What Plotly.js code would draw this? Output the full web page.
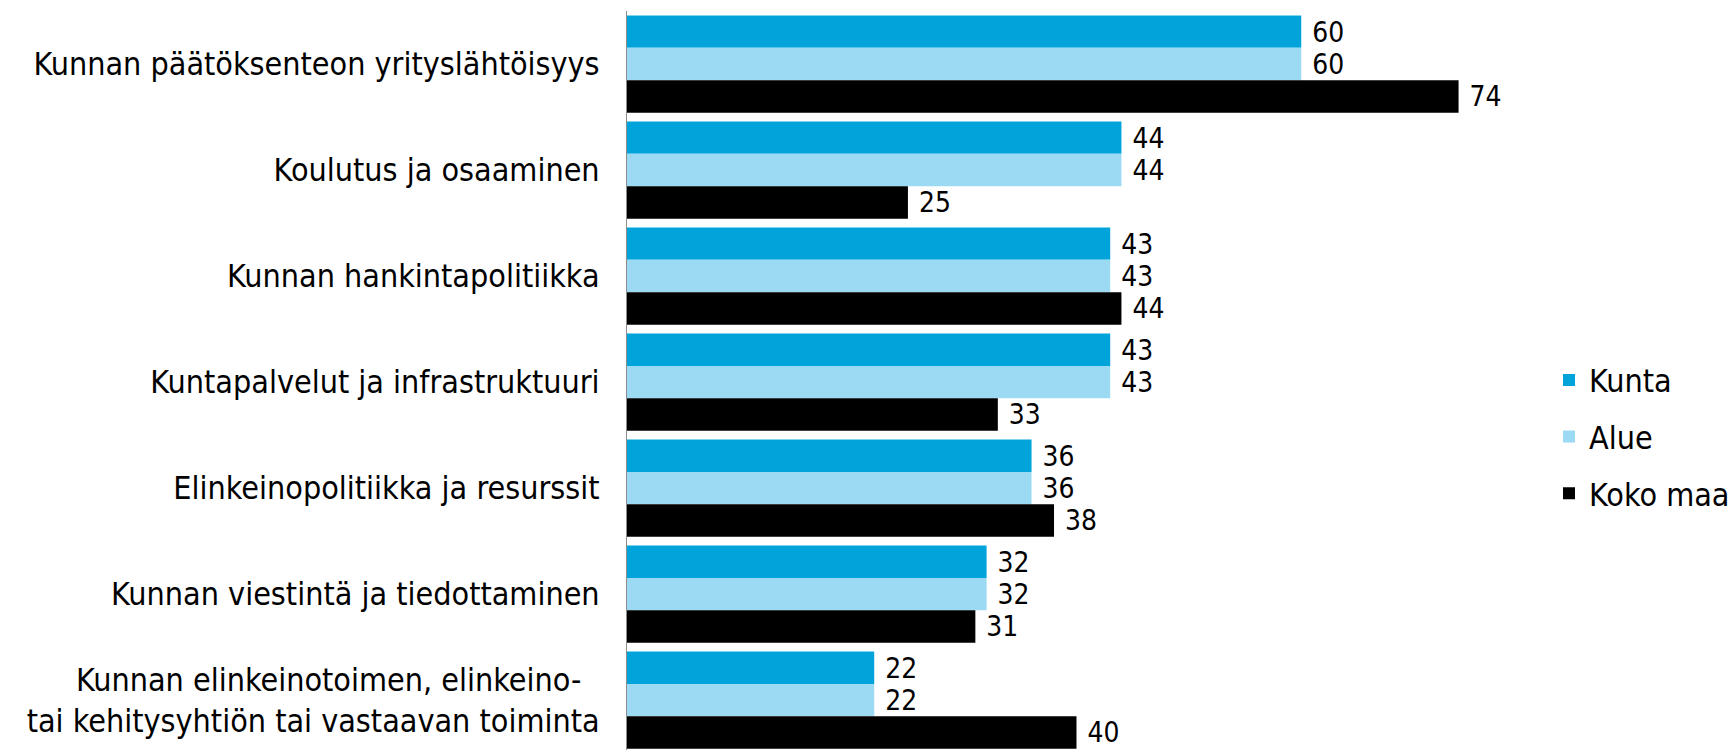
<!DOCTYPE html>
<html>
<head>
<meta charset="utf-8">
<script src="https://cdn.plot.ly/plotly-3.0.1.min.js"></script>
<style>html,body{margin:0;padding:0;background:#fff;}#chart{width:1735px;height:750px;}</style>
</head>
<body>
<div id="chart"></div>
<script>
const categories = [
  "Kunnan päätöksenteon yrityslähtöisyys",
  "Koulutus ja osaaminen",
  "Kunnan hankintapolitiikka",
  "Kuntapalvelut ja infrastruktuuri",
  "Elinkeinopolitiikka ja resurssit",
  "Kunnan viestintä ja tiedottaminen",
  "Kunnan elinkeinotoimen, elinkeino-\u00a0\u00a0<br>tai kehitysyhtiön tai vastaavan toiminta"
];
const kunta = [60, 44, 43, 43, 36, 32, 22];
const alue = [60, 44, 43, 43, 36, 32, 22];
const kokoMaa = [74, 25, 44, 33, 38, 31, 40];
const seriesNames = ["Kunta", "Alue", "Koko maa"];
const seriesColors = ["#00A4DB", "#9BDAF2", "#000000"];

const FONT = "'DejaVu Sans Condensed', 'DejaVu Sans', sans-serif";
const values = [kunta, alue, kokoMaa];
const traces = values.map((v, i) => ({
  type: "bar",
  orientation: "h",
  name: seriesNames[i],
  x: v,
  y: categories,
  marker: {color: seriesColors[i], line: {width: 0}},
  text: v.map(String),
  texttemplate: "\u00a0%{text}",
  textposition: "outside",
  cliponaxis: false,
  textfont: {family: FONT, size: 31, color: "#000"},
  legendgroup: "g" + i,
  hoverinfo: "x+name"
}));

const layout = {
  width: 1735,
  height: 750,
  margin: {l: 627, r: 212, t: 11, b: 0, pad: 0},
  paper_bgcolor: "#fff",
  plot_bgcolor: "#fff",
  barmode: "group",
  bargap: 0.083,
  bargroupgap: 0,
  font: {family: FONT, size: 32, color: "#000"},
  xaxis: {
    range: [0, 79.2],
    visible: false,
    showgrid: false,
    zeroline: false,
    fixedrange: true
  },
  yaxis: {
    type: "category",
    range: [6.47, -0.5],
    showline: true,
    linecolor: "#8c8c8c",
    linewidth: 1,
    ticks: "",
    showgrid: false,
    zeroline: false,
    ticklabelstandoff: 20,
    tickfont: {family: FONT, size: 32, color: "#000"},
    fixedrange: true
  },
  showlegend: true,
  legend: {
    x: 1.036,
    xanchor: "left",
    y: 0.424,
    yanchor: "middle",
    traceorder: "grouped",
    tracegroupgap: 12,
    itemwidth: 30,
    font: {family: FONT, size: 32, color: "#000"},
    bgcolor: "rgba(0,0,0,0)"
  }
};

Plotly.newPlot("chart", traces, layout, {staticPlot: true, displayModeBar: false});
</script>
</body>
</html>
